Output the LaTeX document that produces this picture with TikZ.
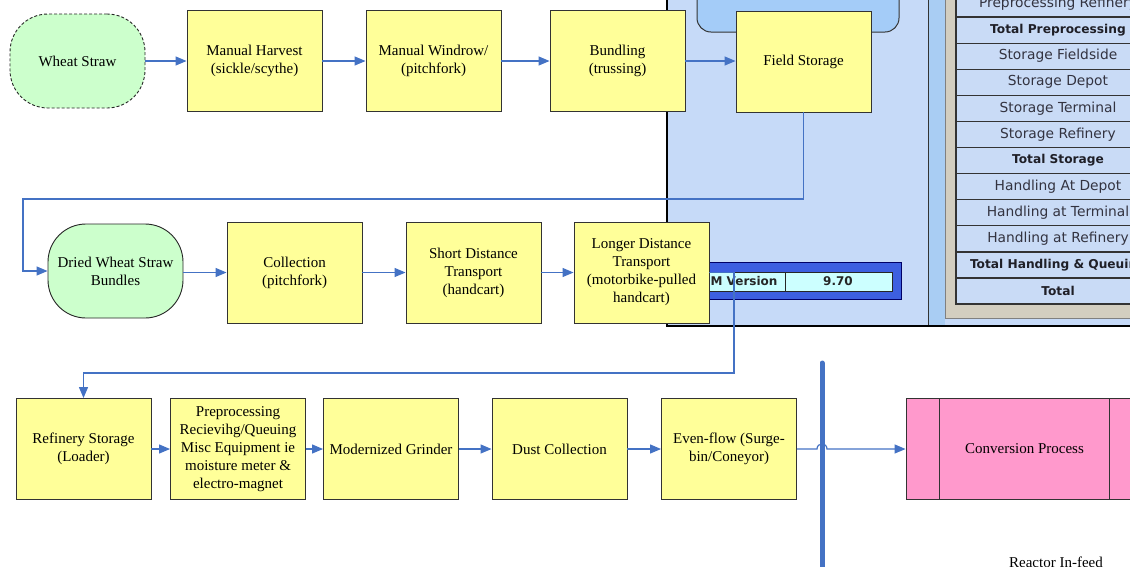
\documentclass[tikz,border=0pt]{standalone}
\usepackage{fontspec}
\setmainfont{Liberation Serif}
\newfontfamily\tabfont{DejaVu Sans}
\usetikzlibrary{arrows.meta}
\definecolor{boxyellow}{HTML}{FFFF99}
\definecolor{boxgreen}{HTML}{CCFFCC}
\definecolor{conn}{HTML}{4472C4}
\definecolor{panelblue}{HTML}{C6DAF8}
\definecolor{stripblue}{HTML}{A9CDF3}
\definecolor{cloudblue}{HTML}{A4CCF8}
\definecolor{framebeige}{HTML}{D3CEC0}
\definecolor{tablerow}{HTML}{C9DBF6}
\definecolor{widgetblue}{HTML}{3D5FE0}
\definecolor{cellcyan}{HTML}{CCFFFF}
\definecolor{procpink}{HTML}{FF99CC}
\definecolor{tabtext}{HTML}{333340}
\begin{document}
\begin{tikzpicture}[x=1pt,y=-1pt,
  txt/.style={font=\fontsize{15}{18}\selectfont},
  proc/.style={txt, draw=black!80, fill=boxyellow, minimum width=135pt, minimum height=101pt, align=center, inner sep=2pt, line width=0.9pt},
  term/.style={txt, draw=black!85, fill=boxgreen, rounded corners=38pt, minimum width=135pt, minimum height=94pt, align=center, line width=0.9pt},
  flow/.style={draw=conn, line width=1.2pt, -{Triangle[length=11pt,width=9pt]}},
  tabtxt/.style={font=\tabfont\fontsize{13.8}{15}\selectfont, text=tabtext},
  tabbold/.style={font=\tabfont\bfseries\fontsize{12.2}{14}\selectfont, text=tabtext!60!black},
  wtxt/.style={font=\tabfont\bfseries\fontsize{12}{14}\selectfont, text=black!85}
]
\useasboundingbox (0,0) rectangle (1130,566);
\clip (0,0) rectangle (1130,566);
% background panel
\fill[panelblue] (667,-5) rectangle (1140,326);
\fill[stripblue] (928,-5) rectangle (945,326);
\draw[black!80, line width=1pt] (928,-5) -- (928,326);
\draw[black, line width=1.2pt] (667,-5) -- (667,326) -- (1140,326);
% table
\filldraw[fill=framebeige, draw=black!50, line width=1pt] (945,-10) rectangle (1140,318);
\filldraw[fill=tablerow, draw=black!80, line width=1.2pt] (956,-10) rectangle (1140,304);
\foreach \i in {0,...,10} \draw[black!80, line width=1.2pt] (956,{17+26.1*\i}) -- (1140,{17+26.1*\i});
\foreach \i/\t/\s in {0/Preprocessing Refinery/tabtxt, 1/Total Preprocessing/tabbold, 2/Storage Fieldside/tabtxt, 3/Storage Depot/tabtxt, 4/Storage Terminal/tabtxt, 5/Storage Refinery/tabtxt, 6/Total Storage/tabbold, 7/Handling At Depot/tabtxt, 8/Handling at Terminal/tabtxt, 9/Handling at Refinery/tabtxt, 10/Total Handling \& Queuing/tabbold, 11/Total/tabbold}
  \node[\s] (t\i) at (1058,{3.95+26.1*\i}) {\t};
% rounded shape at top
\draw[fill=cloudblue, draw=black!80, rounded corners=14pt, line width=1pt] (697,-30) rectangle (899,32);
% version widget
\filldraw[fill=widgetblue, draw=blue!40!black, line width=1pt] (690,262) rectangle (901,299);
\filldraw[fill=cellcyan, draw=black!85, line width=1pt] (690,272) rectangle (892,291);
\draw[black!85, line width=1pt] (785,272) -- (785,291);
\node[wtxt, anchor=east] (wv) at (781,281) {M Version};
\node[wtxt] (wn) at (838,281) {9.70};
% coordinates
\coordinate (k1) at (23,199);
\coordinate (k2) at (734,373);
\coordinate (k3) at (83.5,373);
\coordinate (h1) at (817,449);
\coordinate (h2) at (827,449);
\coordinate (vt) at (822,363);
\coordinate (vb) at (822,590);
% nodes row 1
\node[term, dash pattern=on 3pt off 2pt] (ws) at (77.5,61) {Wheat Straw};
\node[proc] (mh) at (254.5,61) {Manual Harvest\\(sickle/scythe)};
\node[proc] (mw) at (433.5,61) {Manual Windrow/\\(pitchfork)};
\node[proc] (bu) at (617.5,61) {Bundling\\(trussing)};
\node[proc] (fs) at (803.5,61.5) {Field Storage};
% row 2
\node[term] (dw) at (115.5,271) {Dried Wheat Straw\\Bundles};
\node[proc] (co) at (294.5,272.5) {Collection\\(pitchfork)};
\node[proc] (sd) at (473.5,272.5) {Short Distance\\Transport\\(handcart)};
\node[proc] (ld) at (641.5,272.5) {Longer Distance\\Transport\\(motorbike-pulled\\handcart)};
% row 3
\node[proc] (rs) at (83.5,449) {Refinery Storage\\(Loader)};
\node[proc] (pp) at (238,449) {Preprocessing\\Recievihg/Queuing\\Misc Equipment ie\\moisture meter \&\\electro-magnet};
\node[proc] (mg) at (391,449) {Modernized Grinder};
\node[proc] (dc) at (559.5,449) {Dust Collection};
\node[proc] (ef) at (729,449) {Even-flow (Surge-\\bin/Coneyor)};
\node[txt, draw=black!80, fill=procpink, minimum width=237pt, minimum height=101pt, line width=0.9pt] (cp) at (1024.5,449) {Conversion Process};
\draw[black!80, line width=0.9pt] ([xshift=34pt]cp.north west) -- ([xshift=34pt]cp.south west);
\draw[black!80, line width=0.9pt] ([xshift=-34pt]cp.north east) -- ([xshift=-34pt]cp.south east);
\node[txt, anchor=base] (rif) at (1056,567) {Reactor In-feed};
% connectors
\draw[flow] (ws.east) -- (mh.west);
\draw[flow] (mh.east) -- (mw.west);
\draw[flow] (mw.east) -- (bu.west);
\draw[flow] (bu.east) -- (bu.east -| fs.west);
\draw[flow] (fs.south) |- (k1) |- (dw.west);
\draw[flow] (dw.east |- co.west) -- (co.west);
\draw[flow] (co.east) -- (sd.west);
\draw[flow] (sd.east) -- (ld.west);
\draw[flow] (ld.east) -| (k2) -- (k3) -- (rs.north);
\draw[flow] (rs.east) -- (pp.west);
\draw[flow] (pp.east) -- (mg.west);
\draw[flow] (mg.east) -- (dc.west);
\draw[flow] (dc.east) -- (ef.west);
\draw[draw=conn, line width=5pt, line cap=round] (vt) -- (vb);
\draw[flow] (ef.east) -- (h1) .. controls +(0,-6.7) and +(0,-6.7) .. (h2) -- (cp.west);
\end{tikzpicture}
\end{document}
